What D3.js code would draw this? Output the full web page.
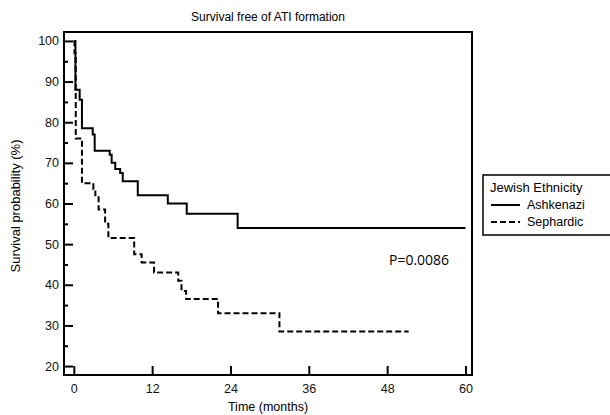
<!DOCTYPE html>
<html>
<head>
<meta charset="utf-8">
<script src="https://cdn.jsdelivr.net/npm/d3@7"></script>
<style>
  body { margin: 0; background: #fff; }
  svg { display: block; font-family: "Liberation Sans", Arial, sans-serif; }
</style>
</head>
<body>
<svg id="chart"></svg>
<script>
// Kaplan-Meier steps (time in months, survival %)
const ashkTimes = [0, 0.25, 0.9, 1.25, 2.9, 3.2, 5.5, 5.8, 6.35, 7.1, 7.5, 9.8, 14.4, 17.3, 25.1, 60];
const ashkSurv  = [100, 88, 85.5, 78.5, 77, 73, 72, 70, 68.5, 67.5, 65.5, 62, 60, 57.5, 54, 54];
const sephTimes = [0, 0.1, 0.3, 1.25, 3.0, 3.3, 3.8, 4.8, 5.3, 9.25, 10.4, 12.3, 16.0, 16.5, 17.2, 22.1, 31.5, 51.3];
const sephSurv  = [100, 97, 76, 65, 63.5, 62, 58.5, 55, 51.5, 47.5, 45.5, 43, 41, 38.5, 36.5, 33, 28.5, 28.5];

const xTicks = [0, 12, 24, 36, 48, 60];
const yTicks = [20, 30, 40, 50, 60, 70, 80, 90, 100];
const yMinorTicks = [25, 35, 45, 55, 65, 75, 85, 95];
const groups = ['Ashkenazi', 'Sephardic'];
const pValue = 'P=0.0086';

const width = 610, height = 415;
const frame = {left: 64, top: 32, right: 472, bottom: 375};

const svg = d3.select('#chart')
    .attr('width', width)
    .attr('height', height);

const xscale = d3.scaleLinear()
    .domain([-1.5, 61])
    .range([frame.left, frame.right]);

const yscale = d3.scaleLinear()
    .domain([17.8, 102.2])
    .range([frame.bottom, frame.top]);

// title
svg.append('text')
    .attr('x', (frame.left + frame.right) / 2)
    .attr('y', 21)
    .attr('text-anchor', 'middle')
    .style('font-size', '12px')
    .text('Survival free of ATI formation');

// axes (ticks point inwards)
const xaxis = d3.axisBottom(xscale)
    .tickValues(xTicks)
    .tickSizeInner(-9)
    .tickSizeOuter(0)
    .tickPadding(9);

const yaxis = d3.axisLeft(yscale)
    .tickValues(yTicks)
    .tickSizeInner(-9)
    .tickSizeOuter(0)
    .tickPadding(5);

const yminor = d3.axisLeft(yscale)
    .tickValues(yMinorTicks)
    .tickSizeInner(-4)
    .tickSizeOuter(0)
    .tickFormat('');

function styleAxis(g) {
    g.select('.domain').remove();
    g.selectAll('line').attr('stroke', '#000').attr('stroke-width', 2);
    g.selectAll('text')
        .attr('fill', '#111')
        .style('font-size', '12.5px')
        .style('font-family', '"Liberation Sans", Arial, sans-serif');
}

svg.append('g')
    .attr('transform', `translate(0, ${frame.bottom})`)
    .call(xaxis)
    .call(styleAxis);

svg.append('g')
    .attr('transform', `translate(${frame.left}, 0)`)
    .call(yaxis)
    .call(styleAxis);

svg.append('g')
    .attr('transform', `translate(${frame.left}, 0)`)
    .call(yminor)
    .call(styleAxis);

// frame
svg.append('rect')
    .attr('x', frame.left)
    .attr('y', frame.top)
    .attr('width', frame.right - frame.left)
    .attr('height', frame.bottom - frame.top)
    .attr('fill', 'none')
    .attr('stroke', '#000')
    .attr('stroke-width', 2);

// axis labels
svg.append('text')
    .attr('x', (frame.left + frame.right) / 2)
    .attr('y', 411)
    .attr('text-anchor', 'middle')
    .style('font-size', '12.5px')
    .text('Time (months)');

svg.append('text')
    .attr('transform', 'rotate(-90)')
    .attr('x', -206)
    .attr('y', 20)
    .attr('text-anchor', 'middle')
    .style('font-size', '13px')
    .text('Survival probability (%)');

// survival curves
const line = d3.line()
    .x(d => xscale(d[0]))
    .y(d => yscale(d[1]))
    .curve(d3.curveStepAfter);

const ashk = ashkTimes.map((t, i) => [t, ashkSurv[i]]);
const seph = sephTimes.map((t, i) => [t, sephSurv[i]]);

svg.append('path')
    .attr('d', line(ashk))
    .attr('fill', 'none')
    .attr('stroke', '#000')
    .attr('stroke-width', 2);

svg.append('path')
    .attr('d', line(seph))
    .attr('fill', 'none')
    .attr('stroke', '#000')
    .attr('stroke-width', 2)
    .attr('stroke-dasharray', '6,3');

// p value
svg.append('text')
    .attr('x', 389)
    .attr('y', 265)
    .style('font-family', '"Open Sans", sans-serif')
    .style('font-size', '14px')
    .text(pValue);

// legend
const legend = svg.append('g');
legend.append('rect')
    .attr('x', 483)
    .attr('y', 175)
    .attr('width', 140)
    .attr('height', 60)
    .attr('fill', 'none')
    .attr('stroke', '#000')
    .attr('stroke-width', 1.5);

legend.append('text')
    .attr('x', 490)
    .attr('y', 192)
    .style('font-size', '13px')
    .text('Jewish Ethnicity');

groups.forEach((g, i) => {
    const ly = 205 + i * 17;
    legend.append('line')
        .attr('x1', 491)
        .attr('x2', 520)
        .attr('y1', ly)
        .attr('y2', ly)
        .attr('stroke', '#000')
        .attr('stroke-width', 2)
        .attr('stroke-dasharray', i === 0 ? null : '6,3');
    legend.append('text')
        .attr('x', 527)
        .attr('y', ly + 4)
        .style('font-size', '12.5px')
        .text(g);
});
</script>
</body>
</html>
